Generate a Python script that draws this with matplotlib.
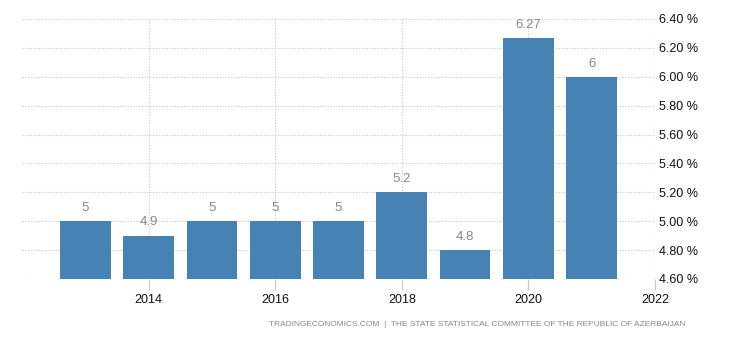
import matplotlib
matplotlib.use("Agg")
import matplotlib.pyplot as plt
from matplotlib.ticker import FuncFormatter

years = [2013, 2014, 2015, 2016, 2017, 2018, 2019, 2020, 2021]
values = [5, 4.9, 5, 5, 5, 5.2, 4.8, 6.27, 6]
value_labels = ["5", "4.9", "5", "5", "5", "5.2", "4.8", "6.27", "6"]
x_ticks = [2014, 2016, 2018, 2020, 2022]
y_ticks = [4.6, 4.8, 5.0, 5.2, 5.4, 5.6, 5.8, 6.0, 6.2, 6.4]
source = "TRADINGECONOMICS.COM  |  THE STATE STATISTICAL COMMITTEE OF THE REPUBLIC OF AZERBAIJAN"

BAR_COLOR = "#4682b4"
GRID_COLOR = "#c8c8c8"

plt.rcParams["font.family"] = ["Liberation Sans", "DejaVu Sans"]

fig = plt.figure(figsize=(7.3, 3.4), dpi=100)
ax = fig.add_axes([22 / 730, 61 / 340, 633 / 730, 260 / 340])

ax.bar(years, values, width=0.8, color=BAR_COLOR, zorder=2)
for x, v, lab in zip(years, values, value_labels):
    ax.annotate(lab, (x, v), xytext=(0, 9.5), textcoords="offset points",
                ha="center", va="center", fontsize=9.5, color="#888888")

ax.set_xlim(2012, 2022)
ax.set_ylim(4.6, 6.4)
ax.set_xticks(x_ticks)
ax.set_yticks(y_ticks)
ax.yaxis.tick_right()
ax.yaxis.set_major_formatter(FuncFormatter(lambda v, _: f"{v:.2f} %"))

ax.grid(True, color=GRID_COLOR, linestyle=(0, (1, 1.5)), linewidth=0.8, zorder=0)
for s in ax.spines.values():
    s.set_visible(False)
ax.tick_params(axis="x", length=8, color=GRID_COLOR, pad=3, labelsize=9, labelcolor="#111111")
ax.tick_params(axis="y", length=0, pad=3, labelsize=9, labelcolor="#111111")

fig.text(685 / 730, 1 - 324 / 340, source, ha="right", va="center",
         fontsize=6.0, color="#888888")

fig.savefig("out.png", dpi=100)
